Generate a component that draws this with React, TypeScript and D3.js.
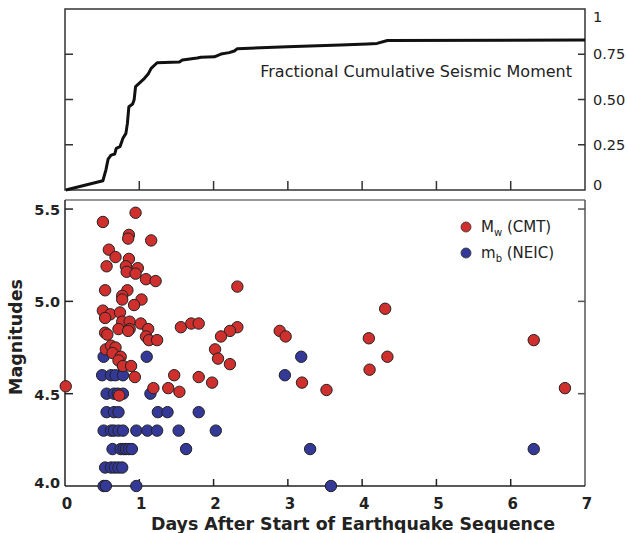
import React from 'react';
import * as d3 from 'd3';

// cumulative seismic moment (fraction of total) vs days
const momentDays = [0.01, 0.51, 0.55, 0.58, 0.62, 0.67, 0.69, 0.74, 0.78, 0.82, 0.84, 0.86, 0.91, 0.93, 0.95, 0.99, 1.07, 1.12, 1.16, 1.24, 1.54, 1.58, 1.78, 1.83, 2.01, 2.1, 2.21, 2.28, 2.32, 2.99, 3.71, 4.07, 4.2, 4.34, 7.0];
const momentFraction = [0, 0.051, 0.11, 0.17, 0.193, 0.199, 0.23, 0.239, 0.286, 0.313, 0.368, 0.46, 0.475, 0.497, 0.571, 0.586, 0.617, 0.641, 0.672, 0.703, 0.707, 0.718, 0.729, 0.733, 0.736, 0.751, 0.759, 0.768, 0.781, 0.792, 0.801, 0.807, 0.81, 0.826, 0.829];

// Mw (CMT) events
const mwDays = [0.01, 0.51, 0.95, 0.86, 0.85, 1.16, 0.59, 0.68, 0.86, 0.56, 0.82, 0.98, 0.83, 0.95, 1.09, 1.22, 0.54, 0.84, 0.77, 0.77, 1.03, 0.93, 0.51, 0.61, 0.54, 0.74, 0.77, 0.87, 1.02, 1.12, 0.72, 0.87, 0.85, 0.54, 0.57, 1.09, 1.13, 1.24, 0.55, 0.62, 0.68, 0.64, 0.75, 0.72, 0.78, 0.89, 0.94, 0.73, 1.19, 1.47, 1.39, 1.54, 2.32, 1.56, 1.7, 1.8, 2.32, 2.22, 2.1, 2.89, 2.97, 2.02, 2.06, 2.22, 1.8, 1.98, 3.19, 3.52, 4.31, 4.09, 4.34, 4.1, 6.31, 6.73];
const mwMag = [4.54, 5.43, 5.48, 5.36, 5.34, 5.33, 5.28, 5.24, 5.23, 5.19, 5.19, 5.18, 5.16, 5.15, 5.12, 5.11, 5.06, 5.06, 5.03, 5.01, 5.01, 4.98, 4.95, 4.93, 4.91, 4.94, 4.89, 4.89, 4.88, 4.85, 4.85, 4.85, 4.84, 4.83, 4.82, 4.81, 4.79, 4.79, 4.74, 4.76, 4.75, 4.72, 4.7, 4.68, 4.65, 4.65, 4.59, 4.49, 4.53, 4.6, 4.53, 4.51, 5.08, 4.86, 4.88, 4.88, 4.86, 4.84, 4.81, 4.84, 4.81, 4.74, 4.69, 4.66, 4.59, 4.56, 4.56, 4.52, 4.96, 4.8, 4.7, 4.63, 4.79, 4.53];

// mb (NEIC) events
const mbDays = [0.52, 0.55, 0.96, 3.58, 0.54, 0.62, 0.67, 0.72, 0.77, 0.64, 0.75, 0.79, 0.82, 0.86, 0.9, 1.63, 3.3, 6.31, 0.52, 0.62, 0.66, 0.72, 0.78, 0.96, 1.11, 1.24, 1.53, 2.03, 0.56, 0.66, 0.72, 1.25, 1.38, 1.8, 0.56, 0.66, 0.71, 0.78, 1.15, 0.5, 0.62, 0.68, 0.78, 2.96, 0.52, 1.1, 3.18];
const mbMag = [4.0, 4.0, 4.0, 4.0, 4.1, 4.1, 4.1, 4.1, 4.1, 4.2, 4.2, 4.2, 4.2, 4.2, 4.2, 4.2, 4.2, 4.2, 4.3, 4.3, 4.3, 4.3, 4.3, 4.3, 4.3, 4.3, 4.3, 4.3, 4.4, 4.4, 4.4, 4.4, 4.4, 4.4, 4.5, 4.5, 4.5, 4.5, 4.5, 4.6, 4.6, 4.6, 4.6, 4.6, 4.7, 4.7, 4.7];

const dayTicks = [0, 1, 2, 3, 4, 5, 6, 7];
const magTicks = [4.0, 4.5, 5.0, 5.5];
const fracTicks = [0, 0.25, 0.5, 0.75, 1];
const fracLabels = ['0', '0.25', '0.50', '0.75', '1'];

const RED = '#cf2f2d';
const BLUE = '#343897';
const FONT = '"DejaVu Sans", "Liberation Sans", sans-serif';

const App = () => {
  const left = 65;
  const right = 585;

  const x = d3.scaleLinear().domain([0, 7]).range([left, right]);
  const yTop = d3.scaleLinear().domain([0, 1]).range([190, 9]);
  const yMag = d3.scaleLinear().domain([4.0, 5.549]).range([486, 200]);

  const line = d3
    .line<number>()
    .x((d, i) => x(momentDays[i]))
    .y((d) => yTop(d))
    .curve(d3.curveLinear);

  return (
    <svg width={627} height={533} style={{ position: 'absolute', left: 0, top: 0 }} fontFamily={FONT}>
      <rect width={627} height={533} fill="#fff" />

      {/* top panel */}
      <rect x={left} y={9} width={right - left} height={181} fill="none" stroke="#333" strokeWidth={1.5} />
      {dayTicks.slice(1, -1).map((d) => (
        <line key={'tt' + d} x1={x(d)} x2={x(d)} y1={190} y2={181} stroke="#333" strokeWidth={1.5} />
      ))}
      {fracTicks.slice(1, -1).map((f) => (
        <g key={'ft' + f}>
          <line x1={left} x2={left + 8} y1={yTop(f)} y2={yTop(f)} stroke="#333" strokeWidth={1.5} />
          <line x1={right} x2={right - 7} y1={yTop(f)} y2={yTop(f)} stroke="#333" strokeWidth={1.5} />
        </g>
      ))}
      {fracTicks.map((f, i) => (
        <text
          key={'fl' + f}
          x={593}
          y={yTop(f) + (f === 1 ? 8 : f === 0 ? -5 : 0)}
          dy="0.35em"
          fontSize={14.5}
          fill="#222"
        >
          {fracLabels[i]}
        </text>
      ))}
      <path d={line(momentFraction) || ''} fill="none" stroke="#111" strokeWidth={3} strokeLinejoin="round" />
      <text x={572} y={77} textAnchor="end" fontSize={16} fill="#222">
        Fractional Cumulative Seismic Moment
      </text>

      {/* bottom panel */}
      <line x1={left} x2={right} y1={200} y2={200} stroke="#777" strokeWidth={1.5} />
      <line x1={right} x2={right} y1={200} y2={486} stroke="#555" strokeWidth={1.5} />
      <line x1={left} x2={left} y1={200} y2={486} stroke="#222" strokeWidth={1.5} />
      <line x1={left} x2={right} y1={486} y2={486} stroke="#222" strokeWidth={1.5} />
      {dayTicks.slice(1, -1).map((d) => (
        <line key={'bt' + d} x1={x(d)} x2={x(d)} y1={486} y2={479} stroke="#222" strokeWidth={1.5} />
      ))}
      {magTicks.slice(1).map((m) => (
        <g key={'mt' + m}>
          <line x1={left} x2={left + 8} y1={yMag(m)} y2={yMag(m)} stroke="#222" strokeWidth={1.5} />
          <line x1={right} x2={right - 7} y1={yMag(m)} y2={yMag(m)} stroke="#555" strokeWidth={1.5} />
        </g>
      ))}
      {magTicks.map((m) => (
        <text
          key={'ml' + m}
          x={60}
          y={yMag(m) + (m === 4.0 ? -3 : 1)}
          dy="0.35em"
          textAnchor="end"
          fontSize={14.5}
          fontWeight="bold"
          fill="#222"
        >
          {m.toFixed(1)}
        </text>
      ))}
      {dayTicks.map((d) => (
        <text key={'dl' + d} x={x(d) + 2} y={509} textAnchor="middle" fontSize={15} fontWeight="bold" fill="#222">
          {d}
        </text>
      ))}
      <text x={353} y={530} textAnchor="middle" fontSize={17.4} fontWeight="bold" fill="#222">
        Days After Start of Earthquake Sequence
      </text>
      <text
        transform="translate(22,337) rotate(-90)"
        textAnchor="middle"
        fontSize={17.5}
        fontWeight="bold"
        fill="#222"
      >
        Magnitudes
      </text>

      {mbDays.map((d, i) => (
        <circle key={'mb' + i} cx={x(d)} cy={yMag(mbMag[i])} r={5.7} fill={BLUE} stroke="#222" strokeWidth={1} />
      ))}
      {mwDays.map((d, i) => (
        <circle key={'mw' + i} cx={x(d)} cy={yMag(mwMag[i])} r={5.7} fill={RED} stroke="#222" strokeWidth={1} />
      ))}

      {/* legend */}
      <circle cx={466} cy={227} r={5} fill={RED} stroke="#333" strokeWidth={0.8} />
      <text x={481} y={232} fontSize={15} fill="#222">
        M<tspan fontSize={10} dy={4}>w</tspan>
        <tspan dy={-4}> (CMT)</tspan>
      </text>
      <circle cx={466} cy={253} r={5} fill={BLUE} stroke="#333" strokeWidth={0.8} />
      <text x={481} y={258} fontSize={15} fill="#222">
        m<tspan fontSize={10} dy={4}>b</tspan>
        <tspan dy={-4}> (NEIC)</tspan>
      </text>
    </svg>
  );
};

export default App;
